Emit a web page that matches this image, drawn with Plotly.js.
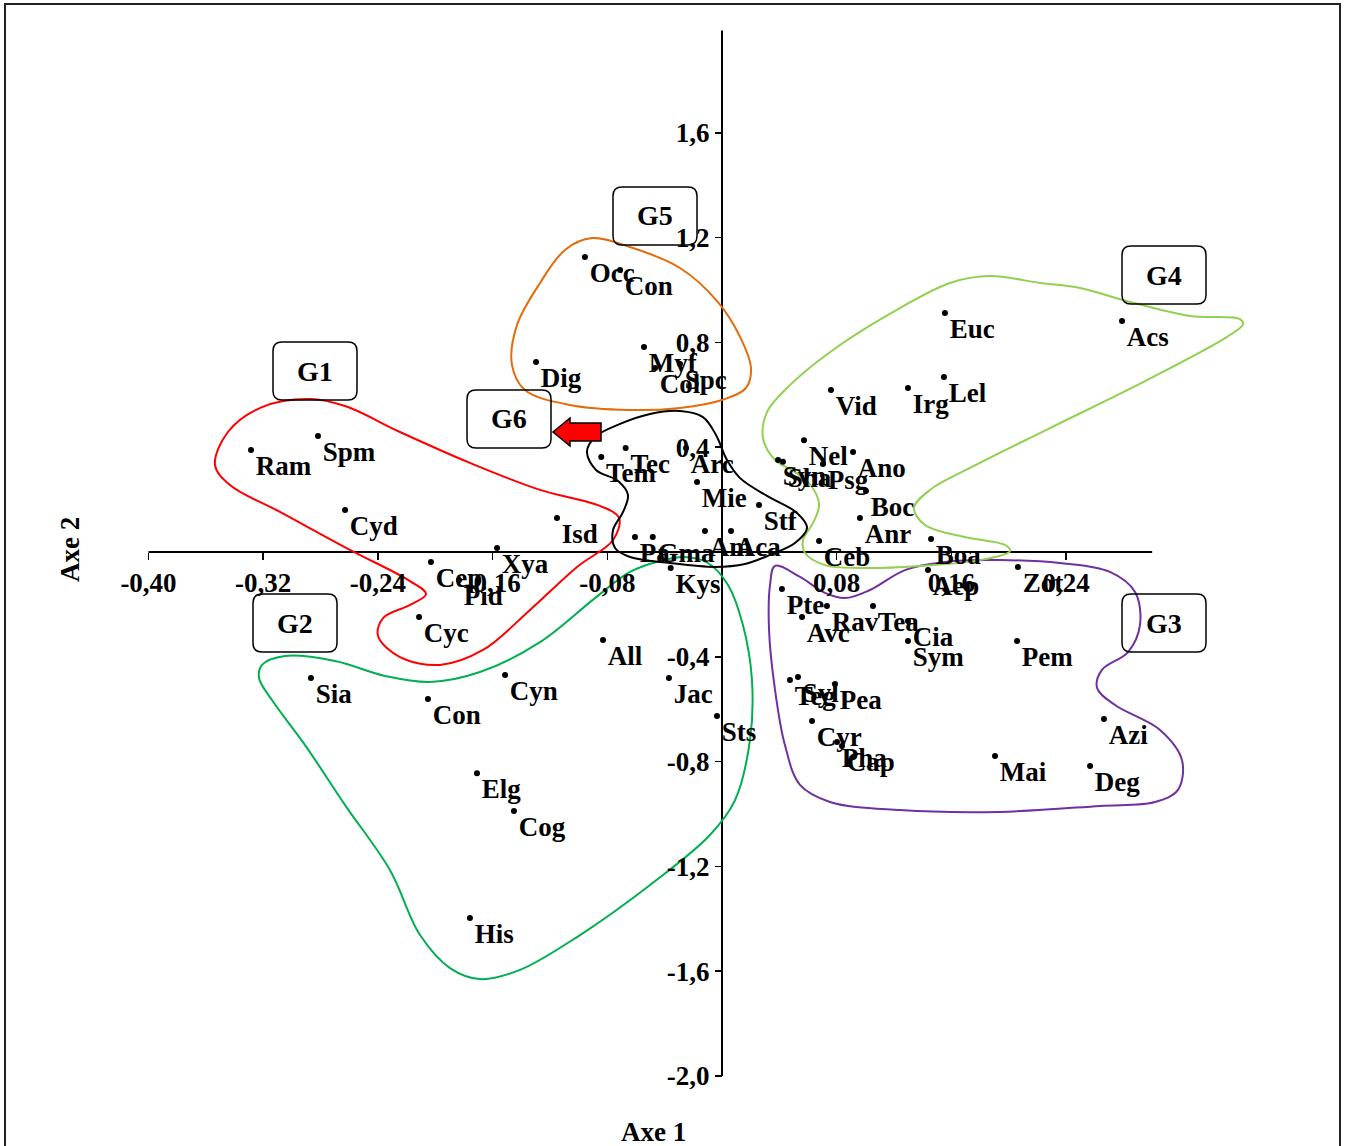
<!DOCTYPE html>
<html>
<head>
<meta charset="utf-8">
<script src="https://cdn.plot.ly/plotly-3.0.1.min.js"></script>
<style>html,body{margin:0;padding:0;background:#fff;}#chart{width:1347px;height:1146px;}</style>
</head>
<body>
<div id="chart"></div>
<script>
// ---- species (points) ----
var speciesNames = ["Ram","Spm","Cyd","Isd","Xya","Cep","Pid","Cyc",
  "Sia","Con","Cyn","Elg","Cog","His","All","Jac","Sts","Kys",
  "Tem","Tec","Arc","Mie","Stf","Am","Aca","Pa","Gma",
  "Occ","Con","Dig","Myf","Col","Spc",
  "Euc","Acs","Vid","Irg","Lel","Nel","Ano","Syn","Sha","Psg","Boc","Anr","Ceb","Boa",
  "Aep","Zot","Pte","Avc","Rav","Tea","Cia","Sym","Pem","Teg","Syl","Pea","Cyr","Pha","Cap","Mai","Azi","Deg"];
var axe1 = [-0.3285,-0.2818,-0.2629,-0.1151,-0.1569,-0.2030,-0.1834,-0.2113,
  -0.2867,-0.2051,-0.1513,-0.1709,-0.1451,-0.1758,-0.0830,-0.0370,-0.0035,-0.0358,
  -0.0842,-0.0672,-0.0251,-0.0174,0.0258,-0.0119,0.0063,-0.0607,-0.0483,
  -0.0956,-0.0711,-0.1297,-0.0544,-0.0467,-0.0293,
  0.1555,0.2790,0.0760,0.1297,0.1548,0.0572,0.0914,0.0391,0.0425,0.0704,0.1004,0.0962,0.0677,0.1458,
  0.1437,0.2064,0.0418,0.0558,0.0732,0.1053,0.1297,0.1297,0.2058,0.0474,0.0530,0.0788,0.0628,0.0802,0.0837,0.1904,0.2664,0.2567];
var axe2 = [0.389,0.443,0.160,0.130,0.015,-0.038,-0.107,-0.248,
  -0.481,-0.561,-0.469,-0.844,-0.989,-1.397,-0.336,-0.481,-0.626,-0.061,
  0.363,0.397,0.397,0.267,0.179,0.080,0.080,0.057,0.057,
  1.126,1.076,0.725,0.782,0.702,0.718,
  0.912,0.882,0.618,0.626,0.668,0.427,0.382,0.351,0.344,0.336,0.233,0.130,0.042,0.050,
  -0.069,-0.057,-0.141,-0.248,-0.206,-0.206,-0.263,-0.340,-0.340,-0.489,-0.477,-0.504,-0.645,-0.725,-0.740,-0.779,-0.637,-0.817];

// ---- group outlines (data coordinates) ----
var g1x = [-0.3536,-0.3446,-0.3208,-0.2874,-0.2629,-0.2246,-0.1758,-0.1269,-0.0851,-0.0718,-0.0760,-0.1011,-0.1339,-0.1667,-0.1967,-0.2246,-0.2399,-0.2364,-0.2176,-0.2064,-0.2176,-0.2595,-0.3083,-0.3432];
var g1y = [0.332,0.458,0.553,0.584,0.557,0.458,0.340,0.237,0.176,0.130,0.046,-0.057,-0.221,-0.374,-0.431,-0.401,-0.321,-0.252,-0.202,-0.160,-0.111,0.008,0.153,0.256];
var g2x = [-0.3208,-0.3048,-0.2699,-0.2350,-0.2037,-0.1688,-0.1269,-0.0886,-0.0642,-0.0432,-0.0258,-0.0098,0.0042,0.0146,0.0209,0.0195,0.0091,-0.0084,-0.0502,-0.0990,-0.1409,-0.1688,-0.1897,-0.2106,-0.2316,-0.2629,-0.2908,-0.3139,-0.3229];
var g2y = [-0.431,-0.397,-0.416,-0.473,-0.496,-0.458,-0.344,-0.176,-0.076,-0.034,-0.019,-0.042,-0.126,-0.279,-0.489,-0.718,-0.947,-1.080,-1.271,-1.462,-1.595,-1.630,-1.588,-1.462,-1.214,-0.966,-0.737,-0.565,-0.481];
var g3x = [0.0370,0.0544,0.0718,0.0858,0.1032,0.1276,0.1555,0.1939,0.2357,0.2706,0.2881,0.2915,0.2832,0.2650,0.2616,0.2741,0.3055,0.3208,0.3180,0.3020,0.2636,0.1939,0.1241,0.0753,0.0544,0.0439,0.0370,0.0328,0.0335];
var g3y = [-0.053,-0.095,-0.156,-0.176,-0.145,-0.069,-0.038,-0.031,-0.042,-0.076,-0.153,-0.279,-0.382,-0.450,-0.519,-0.584,-0.679,-0.794,-0.908,-0.954,-0.969,-0.992,-0.985,-0.954,-0.889,-0.737,-0.527,-0.298,-0.126];
var g4x = [0.1869,0.2218,0.2497,0.2797,0.3264,0.3613,0.3634,0.3522,0.2964,0.2288,0.1730,0.1451,0.1339,0.1416,0.1695,0.1974,0.2009,0.1799,0.1381,0.0963,0.0718,0.0579,0.0565,0.0635,0.0677,0.0628,0.0509,0.0370,0.0286,0.0314,0.0474,0.0823,0.1241,0.1590];
var g4y = [1.053,1.027,1.008,0.962,0.901,0.889,0.870,0.821,0.656,0.473,0.321,0.237,0.168,0.103,0.057,0.027,0.004,-0.031,-0.053,-0.061,-0.050,-0.004,0.046,0.111,0.179,0.248,0.305,0.351,0.435,0.534,0.637,0.790,0.931,1.027];
var g5x = [-0.0907,-0.0642,-0.0293,-0.0028,0.0126,0.0202,0.0167,0.0000,-0.0293,-0.0642,-0.1060,-0.1374,-0.1465,-0.1430,-0.1269,-0.1095];
var g5y = [1.198,1.164,1.084,0.954,0.821,0.702,0.626,0.580,0.550,0.542,0.561,0.618,0.714,0.866,1.027,1.153];
var g6x = [-0.0293,-0.0133,-0.0042,0.0035,0.0126,0.0314,0.0523,0.0593,0.0509,0.0335,0.0160,-0.0049,-0.0363,-0.0642,-0.0746,-0.0760,-0.0690,-0.0656,-0.0725,-0.0879,-0.0942,-0.0886,-0.0711,-0.0502];
var g6y = [0.538,0.515,0.447,0.351,0.282,0.214,0.149,0.092,0.034,-0.011,-0.046,-0.057,-0.042,-0.019,0.015,0.084,0.153,0.218,0.271,0.313,0.382,0.439,0.489,0.527];

var groupNames = ["G1","G2","G3","G4","G5","G6"];
var groupColors = ["#ff0000","#00b050","#7030a0","#92d050","#e46c0a","#000000"];

// ---- axis ticks ----
var xTickVals = [-0.40,-0.32,-0.24,-0.16,-0.08,0.08,0.16,0.24];
var xTickText = ["-0,40","-0,32","-0,24","-0,16","-0,08","0,08","0,16","0,24"];
var yTickVals = [1.6,1.2,0.8,0.4,-0.4,-0.8,-1.2,-1.6,-2.0];
var yTickText = ["1,6","1,2","0,8","0,4","-0,4","-0,8","-1,2","-1,6","-2,0"];

var FONT = "Liberation Serif, Times New Roman, serif";
var FS = 27;
function closed(a){ return a.concat([a[0]]); }

var outlines = [[g1x,g1y],[g2x,g2y],[g3x,g3y],[g4x,g4y],[g5x,g5y],[g6x,g6y]];
var traces = outlines.map(function(o,i){
  return {x: closed(o[0]), y: closed(o[1]), mode:'lines', type:'scatter',
    line:{color: groupColors[i], width:2, shape:'spline', smoothing:1},
    hoverinfo:'skip', showlegend:false, name: groupNames[i]};
});
traces.push({x: axe1, y: axe2, text: speciesNames, mode:'markers+text', type:'scatter',
  marker:{color:'#000', size:6}, textposition:'bottom right', cliponaxis:false,
  textfont:{family:FONT, size:FS, color:'#000', weight:'bold'}, showlegend:false});

// pixel geometry: plot area = full page
var W = 1347, H = 1146;
var xPosOfY = 722 / W;            // paper x where x=0
var yPosOfX = (H - 552) / H;      // paper y where y=0

function rrect(w,h,r){
  var a=w/2,b=h/2;
  return 'M '+(-a+r)+','+(-b)+' L '+(a-r)+','+(-b)+' Q '+a+','+(-b)+' '+a+','+(-b+r)+
    ' L '+a+','+(b-r)+' Q '+a+','+b+' '+(a-r)+','+b+' L '+(-a+r)+','+b+' Q '+(-a)+','+b+' '+(-a)+','+(b-r)+
    ' L '+(-a)+','+(-b+r)+' Q '+(-a)+','+(-b)+' '+(-a+r)+','+(-b)+' Z';
}
var boxCenters = [[315,371],[295,623],[1164,623],[1164,275],[655,216],[509,419]];
var shapes = [
  {type:'line', xref:'x', yref:'y', x0:-0.40, x1:0.30, y0:0, y1:0, line:{color:'#000', width:2}, layer:'below'},
  {type:'line', xref:'x', yref:'y', x0:0, x1:0, y0:-2.0, y1:1.99, line:{color:'#000', width:2}, layer:'below'},
  {type:'rect', xref:'paper', yref:'paper', x0:5/W, x1:1340/W, y0:-0.02, y1:(H-4)/H, line:{color:'#222', width:2}},
  {type:'path', xref:'paper', yref:'paper', xsizemode:'pixel', ysizemode:'pixel', xanchor:553/W, yanchor:(H-432)/H,
    path:'M 0,0 L 17,14 L 17,9 L 48,9 L 48,-9 L 17,-9 L 17,-14 Z', fillcolor:'#ff0000', line:{color:'#000', width:1.5}}
];
var annotations = [];
boxCenters.forEach(function(c,i){
  shapes.push({type:'path', xref:'paper', yref:'paper', xsizemode:'pixel', ysizemode:'pixel',
    xanchor:c[0]/W, yanchor:(H-c[1])/H, path: rrect(84,58,9), line:{color:'#000', width:1.5}});
  annotations.push({xref:'paper', yref:'paper', x:c[0]/W, y:(H-c[1])/H, text:groupNames[i], showarrow:false,
    xanchor:'center', yanchor:'middle', font:{family:FONT, size:28, color:'#000', weight:'bold'}});
});
annotations.push({xref:'paper', yref:'paper', x:653/W, y:(H-1132)/H, text:'Axe 1', showarrow:false,
  xanchor:'center', yanchor:'middle', font:{family:FONT, size:FS, color:'#000', weight:'bold'}});
annotations.push({xref:'paper', yref:'paper', x:70/W, y:(H-550)/H, text:'Axe 2', showarrow:false, textangle:-90,
  xanchor:'center', yanchor:'middle', font:{family:FONT, size:FS, color:'#000', weight:'bold'}});

var layout = {
  width: W, height: H,
  margin:{l:0, r:0, t:0, b:0},
  paper_bgcolor:'#fff', plot_bgcolor:'#fff',
  showlegend:false,
  xaxis:{range:[(0-722)/1433.75, (W-722)/1433.75], anchor:'free', position:yPosOfX,
    showgrid:false, zeroline:false, showline:false,
    tickmode:'array', tickvals:xTickVals, ticktext:xTickText,
    ticks:'outside', ticklen:7, tickwidth:1.5, tickcolor:'#000',
    tickfont:{family:FONT, size:FS, color:'#000', weight:'bold'}, fixedrange:true},
  yaxis:{range:[(552-H)/262, 552/262], anchor:'free', position:xPosOfY,
    showgrid:false, zeroline:false, showline:false,
    tickmode:'array', tickvals:yTickVals, ticktext:yTickText,
    ticks:'outside', ticklen:7, tickwidth:1.5, tickcolor:'#000',
    tickfont:{family:FONT, size:FS, color:'#000', weight:'bold'}, fixedrange:true},
  shapes: shapes,
  annotations: annotations
};
Plotly.newPlot('chart', traces, layout, {staticPlot:true});
</script>
</body>
</html>
